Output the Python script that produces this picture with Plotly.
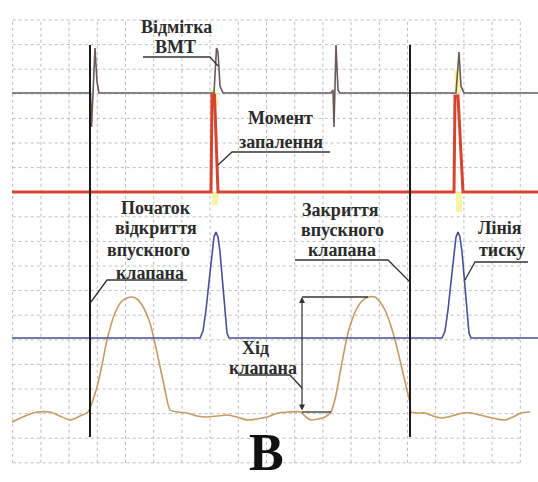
import plotly.graph_objects as go

# ---- data (time in screen-time units, level in signal units) ----
# BMT (top dead centre) marker channel
bmt_t = [12, 90.5, 91.5, 93, 95, 97, 99, 214, 216.5, 218, 220, 223,
         331, 333, 334, 336, 338, 340, 453, 456, 459, 461, 464, 538]
bmt_l = [389, 389, 355, 389, 434, 400, 389, 389, 434, 430, 396, 389,
         389, 392, 355, 437, 392, 389, 389, 389, 430, 396, 389, 389]

# ignition channel
ign_t = [12, 211, 212, 214.5, 218, 454, 455, 458, 463, 538]
ign_l = [290, 290, 387, 387, 290, 290, 386, 386, 290, 290]

# glow around ignition pulses
glow_t = [213, 216, None, 215, 215, None, 457, 458, None, 459, 459]
glow_l = [392, 376, None, 290, 277, None, 412, 389, None, 290, 270]

# cylinder pressure channel
pr_t = [12, 200, 203, 206, 209, 212, 214, 216, 218, 220, 223, 225, 227, 229,
        442, 445, 448, 451, 454, 456, 458, 460, 462, 465, 467, 469, 471, 538]
pr_l = [144, 144, 151, 172, 200, 230, 245, 250, 245, 230, 197, 167, 149, 144,
        144, 151, 172, 200, 230, 245, 250, 245, 230, 197, 167, 149, 144, 144]

# intake valve lift channel
vl_t = [12, 25, 37, 50, 60, 70, 80, 88, 97, 102, 107, 115, 122, 127, 132, 137,
        142, 150, 158, 165, 170, 178, 187, 197, 207, 217, 227, 237, 247, 257,
        267, 278, 288, 301, 306, 311, 318, 325, 331, 336, 340, 344, 348, 352,
        356, 362, 368, 375, 380, 385, 390, 395, 399, 403, 407, 410, 411, 418,
        425, 433, 441, 448, 455, 463, 471, 480, 488, 497, 505, 513, 521, 530]
vl_l = [60, 66, 70, 70, 66, 62, 66, 70, 95, 117, 142, 169, 181, 184, 185, 183,
        177, 159, 125, 92, 72, 70, 69, 66, 65, 66, 67, 65, 62, 63,
        65, 69, 70, 70, 65, 62, 63, 65, 70, 87, 109, 130, 149, 162,
        172, 181, 185, 185, 180, 172, 159, 142, 126, 109, 92, 79, 70, 69,
        69, 66, 64, 65, 67, 69, 69, 67, 65, 63, 62, 65, 69, 70]

# event markers (valve opening / closing)
event_t = [90, 410]
event_top, event_bottom = 437, 45

# valve travel dimension
lift_top, lift_base = 185, 70

# grid
grid_x = [12.7 + 28.2 * k for k in range(19)]
grid_y = [462 - 24.6 * k for k in range(19)]

fig = go.Figure()

# grid
gx, gy = [], []
for x in grid_x:
    gx += [x, x, None]; gy += [grid_y[-1], grid_y[0], None]
for y in grid_y:
    gx += [grid_x[0], grid_x[-1], None]; gy += [y, y, None]
fig.add_trace(go.Scatter(x=gx, y=gy, mode="lines",
                         line=dict(color="#bdbdbd", width=1, dash="dot")))

# valve lift
fig.add_trace(go.Scatter(x=vl_t, y=vl_l, mode="lines",
                         line=dict(color="#c79a62", width=1.6, shape="spline", smoothing=0.6)))
# pressure
fig.add_trace(go.Scatter(x=pr_t, y=pr_l, mode="lines",
                         line=dict(color="#45509a", width=1.6)))
# ignition glow + ignition
fig.add_trace(go.Scatter(x=glow_t, y=glow_l, mode="lines",
                         line=dict(color="rgba(240,235,90,0.55)", width=6)))
fig.add_trace(go.Scatter(x=ign_t, y=ign_l, mode="lines",
                         line=dict(color="#d6442f", width=3)))
# BMT marker
fig.add_trace(go.Scatter(x=bmt_t, y=bmt_l, mode="lines",
                         line=dict(color="#6a5a5a", width=1.6)))

# event vertical lines
ex, ey = [], []
for t in event_t:
    ex += [t, t, None]; ey += [event_top, event_bottom, None]
fig.add_trace(go.Scatter(x=ex, y=ey, mode="lines",
                         line=dict(color="#1a1a1a", width=2)))

# leader lines
leaders = [
    ([143, 210, 218], [425, 425, 416]),
    ([330, 232, 218], [330, 330, 317]),
    ([187, 107, 91], [202, 202, 180]),
    ([295, 388, 410], [222, 222, 200]),
    ([528, 475, 465], [220, 220, 202]),
    ([238, 290, 302], [107, 107, 94]),
    ([302, 368], [lift_top, lift_top]),
    ([302, 331], [lift_base, lift_base]),
]
lx, ly = [], []
for xs, ys in leaders:
    lx += xs + [None]; ly += ys + [None]
fig.add_trace(go.Scatter(x=lx, y=ly, mode="lines",
                         line=dict(color="#333333", width=1.3)))

font = dict(family="Liberation Serif, DejaVu Serif, serif", size=18, color="#2b2b2b")
labels = [
    ("<b>Відмітка</b>", 176, 455), ("<b>ВМТ</b>", 175, 435),
    ("<b>Момент</b>", 280, 364), ("<b>запалення</b>", 281, 340),
    ("<b>Початок</b>", 156, 274), ("<b>відкриття</b>", 156, 254),
    ("<b>впускного</b>", 148, 232), ("<b>клапана</b>", 150, 209),
    ("<b>Закриття</b>", 340, 272), ("<b>впускного</b>", 342, 252),
    ("<b>клапана</b>", 342, 232),
    ("<b>Лінія</b>", 500, 254), ("<b>тиску</b>", 502, 232),
    ("<b>Хід</b>", 255, 134), ("<b>клапана</b>", 263, 114),
]
for txt, x, y in labels:
    fig.add_annotation(x=x, y=y, text=txt, showarrow=False, font=font)

fig.add_annotation(x=266, y=30, text="<b>В</b>", showarrow=False,
                   font=dict(family="Liberation Serif, DejaVu Serif, serif", size=52, color="#111111"))

# dimension arrow
fig.add_annotation(x=302, y=lift_top, ax=302, ay=lift_base, axref="x", ayref="y",
                   text="", showarrow=True, arrowhead=2, arrowside="end+start",
                   arrowsize=1, arrowwidth=1.2, arrowcolor="#333333",
                   standoff=0, startstandoff=0)

fig.update_layout(
    width=538, height=482, margin=dict(l=0, r=0, t=0, b=0),
    paper_bgcolor="white", plot_bgcolor="white", showlegend=False,
    xaxis=dict(range=[0, 538], visible=False, fixedrange=True),
    yaxis=dict(range=[0, 482], visible=False, fixedrange=True),
    hovermode=False,
)
fig.write_html("out.html", config={"displayModeBar": False},
               post_script="document.body.style.margin='0';document.body.style.overflow='hidden';")
